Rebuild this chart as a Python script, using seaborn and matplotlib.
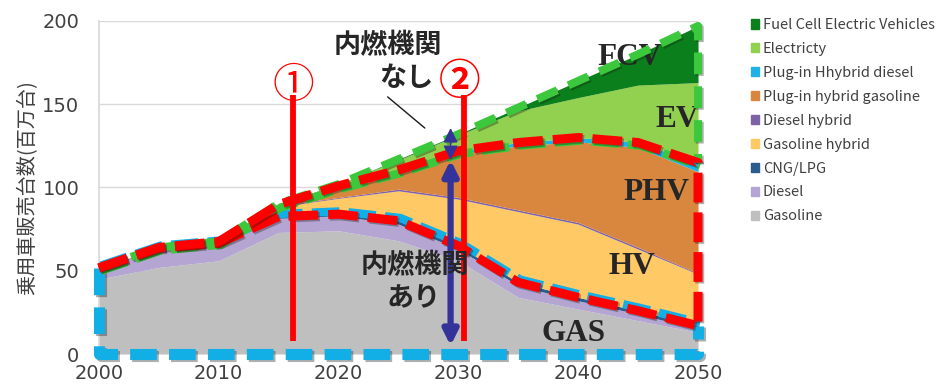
import numpy as np
import seaborn as sns
import matplotlib.pyplot as plt
import matplotlib.patheffects as pe
from matplotlib.patches import Patch

years = [2000, 2005, 2010, 2015, 2020, 2025, 2030, 2035, 2040, 2045, 2050]
gasoline = [45, 52, 56, 73, 74, 68, 56, 34, 27, 20, 13]
diesel = [6, 11, 10, 8.5, 9, 10, 7, 7, 5, 4, 2]
cng_lpg = [0.5, 0.5, 0.5, 1, 1, 2, 2, 2, 2, 2, 2]
gasoline_hybrid = [0.3, 0.5, 1, 6, 9.5, 18, 28, 42.5, 44, 37, 31]
diesel_hybrid = [0, 0, 0, 0.5, 0.5, 1, 1, 1, 1, 1, 0.5]
phev_gasoline = [0, 0, 0, 0.5, 6, 10, 26, 38.5, 48.5, 60, 61]
phev_diesel = [0, 0, 0, 0.3, 1, 1.5, 2, 2, 2.5, 3, 5.5]
electricity = [0, 0, 0, 0.5, 1, 6, 9.5, 19, 24, 34.5, 48]
fcev = [0, 0, 0, 0, 0, 0.5, 0.5, 2, 10, 18.5, 34]

labels = ['Gasoline', 'Diesel', 'CNG/LPG', 'Gasoline hybrid', 'Diesel hybrid',
          'Plug-in hybrid gasoline', 'Plug-in Hhybrid diesel', 'Electricty',
          'Fuel Cell Electric Vehicles']
colors = ['#BFBFBF', '#B4A5D2', '#2B5C8F', '#FFC966', '#7E62A8',
          '#D9873F', '#1EB2E6', '#92D050', '#0B7F1B']

sns.set_theme(style='white')
plt.rcParams['font.family'] = ['DejaVu Sans', 'Noto Sans CJK JP']
jp = ['Noto Sans CJK JP', 'DejaVu Sans']

layers = [gasoline, diesel, cng_lpg, gasoline_hybrid, diesel_hybrid,
          phev_gasoline, phev_diesel, electricity, fcev]
stack = np.cumsum(np.array(layers, dtype=float), axis=0)
ice_low = stack[2]
ice_all = stack[6]
total = stack[8]

fig = plt.figure(figsize=(9.42, 3.85), dpi=100)
ax = fig.add_axes([0.105, 0.0805, 0.636, 0.865])
ax.stackplot(years, layers, colors=colors, lw=0, zorder=2)

ax.set_xlim(2000, 2050)
ax.set_ylim(0, 200)
ax.set_xticks(range(2000, 2051, 10))
ax.set_yticks(range(0, 201, 50))
ax.grid(axis='y', color='#D9D9D9', lw=1, zorder=0)
for s in ['top', 'right', 'bottom']:
    ax.spines[s].set_visible(False)
ax.spines['left'].set_color('#D9D9D9')
ax.tick_params(axis='x', length=0, pad=7, labelsize=14, labelcolor='#404040')
ax.tick_params(axis='y', length=0, pad=14, labelsize=14, labelcolor='#404040')
ax.set_ylabel('乗用車販売台数(百万台)', family=jp, fontsize=14.5, color='#404040', labelpad=3)

shadow = [pe.SimpleLineShadow(offset=(1.2, -1.2), shadow_color='k', alpha=0.35), pe.Normal()]
blue, red, green = '#12AEE6', '#FF0000', '#3CC83C'

# blue frame of conventional vehicles
ax.plot([years[0], years[0], years[-1], years[-1]], [ice_low[0], 0, 0, ice_low[-1]],
        color=blue, lw=8, linestyle=(0, (2.4, 1.1)), clip_on=False, zorder=5,
        path_effects=shadow)
ax.plot(years, ice_low, color=blue, lw=6, linestyle=(0, (3.3, 1.1)), clip_on=False,
        zorder=5, path_effects=[pe.Stroke(offset=(1.5, 2))])

# green frame of vehicles without engine
ax.plot(years + [years[-1]], list(total) + [ice_all[-1]], color=green, lw=5.8,
        linestyle=(0, (2.7, 1.5)), clip_on=False, zorder=5, path_effects=shadow)
ax.plot(years, ice_all, color=green, lw=6, linestyle=(0, (3.3, 1.1)), clip_on=False,
        zorder=5, path_effects=[pe.Stroke(offset=(1.5, -2.2))])

# red frame of hybrids
sns.lineplot(x=years, y=ice_low, ax=ax, color=red, lw=6.5, estimator=None, sort=False,
             linestyle=(0, (3.3, 1.1)), clip_on=False, zorder=6, path_effects=shadow)
ax.plot(years + [years[-1]], list(ice_all) + [ice_low[-1]], color=red, lw=6.5,
        linestyle=(0, (3.3, 1.1)), clip_on=False, zorder=6, path_effects=shadow)

# cut-off years
for xv in [2016.2, 2030.45]:
    ax.plot([xv, xv], [8, 155.5], color=red, lw=4.2, zorder=8, solid_capstyle='butt')
ax.text(2016.2, 160.5, '①', family=jp, fontsize=30, color=red, ha='center', va='center', zorder=9)
ax.text(2030.1, 163.5, '②', family=jp, fontsize=30, fontweight='bold', color=red,
        ha='center', va='center', zorder=9)

arrow = dict(arrowstyle='<|-|>', color='#333399', lw=4.5, mutation_scale=22, shrinkA=0, shrinkB=0)
ax.annotate('', xy=(2029.35, 5), xytext=(2029.35, 116.5), arrowprops=arrow, zorder=8)
ax.annotate('', xy=(2029.35, 116.5), xytext=(2029.35, 135.7),
            arrowprops=dict(arrow, lw=1), zorder=8)

ax.plot([2024.1, 2027.2], [154.4, 135.7], color='k', lw=1, zorder=8)
ax.text(2024.1, 185.6, '内燃機関', family=jp, fontsize=19.5, fontweight='bold', ha='center', va='center', zorder=9)
ax.text(2025.7, 165.8, 'なし', family=jp, fontsize=19.5, fontweight='bold', ha='center', va='center', zorder=9)
ax.text(2026.4, 53.5, '内燃機関', family=jp, fontsize=19.5, fontweight='bold', ha='center', va='center', zorder=9)
ax.text(2026.3, 33.6, 'あり', family=jp, fontsize=19.5, fontweight='bold', ha='center', va='center', zorder=9)

serif = dict(family='Liberation Serif', fontsize=22.5, fontweight='bold', ha='center', va='center', zorder=4)
ax.text(2044.3, 178, 'FCV', **serif)
ax.text(2048.3, 141, 'EV', **serif)
ax.text(2046.5, 97, 'PHV', **serif)
ax.text(2044.5, 52.8, 'HV', **serif)
ax.text(2039.6, 12.6, 'GAS', **serif)

handles = [Patch(color=c, label=l) for c, l in zip(colors, labels)][::-1]
fig.legend(handles=handles, loc='upper left', bbox_to_anchor=(0.789, 0.972), frameon=False,
           prop={'family': jp, 'size': 10.5}, labelcolor='#404040', handlelength=0.6,
           handleheight=0.6, handletextpad=0.25, labelspacing=0.68, borderpad=0)

fig.savefig('out.png', dpi=100)
